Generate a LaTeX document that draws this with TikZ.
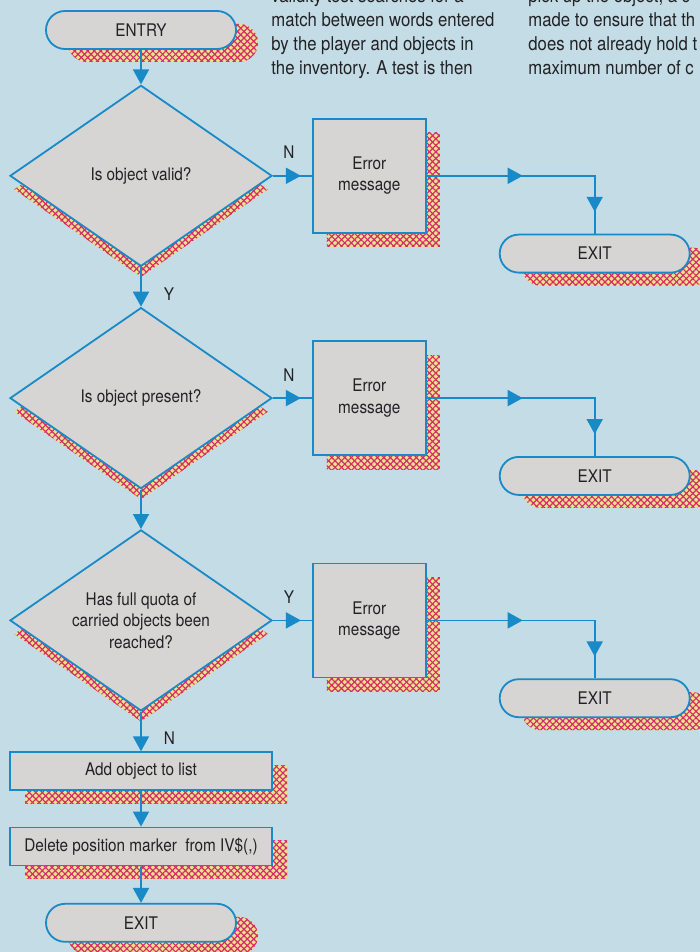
\documentclass[tikz,border=0pt]{standalone}
\usepackage{fontspec}
\setmainfont{TeX Gyre Heros}[FakeStretch=0.88]
\usetikzlibrary{arrows.meta,positioning,shapes,shapes.geometric,shapes.misc,patterns.meta,shadows,decorations.markings}

\definecolor{paper}{RGB}{195,220,230}
\definecolor{boxgrey}{RGB}{214,213,211}
\definecolor{flowblue}{RGB}{24,138,200}
\definecolor{hatchred}{RGB}{212,44,104}
\definecolor{hatchyellow}{RGB}{236,226,140}
\definecolor{ink}{RGB}{34,34,38}

\tikzset{
  hatched/.style n args={3}{
    general shadow={shadow xshift=#1, shadow yshift=#2, shadow scale=#3, draw=none, fill=hatchyellow},
    general shadow={shadow xshift=#1, shadow yshift=#2, shadow scale=#3, draw=none,
      pattern={Lines[angle=45,distance=2.3pt,line width=.6pt]}, pattern color=hatchred},
    general shadow={shadow xshift=#1, shadow yshift=#2, shadow scale=#3, draw=none,
      pattern={Lines[angle=-45,distance=2.3pt,line width=.6pt]}, pattern color=hatchred}},
  midarrows/.style={postaction={decorate},
    decoration={markings, mark=at position #1 with {\arrow{>}}}},
  turnarrows/.style={postaction={decorate},
    decoration={markings, mark=at position 48pt with {\arrow{>}},
      mark=at position 102pt with {\arrow{>}}}},
}

\begin{document}
\begin{tikzpicture}[x=1pt,y=1pt,
  >={Triangle[width=8pt,length=7.5pt]},
  base/.style={fill=boxgrey, draw=flowblue, line width=.9pt, inner sep=0pt, text=ink,
    font=\fontsize{8.7pt}{10.75pt}\selectfont, align=center},
  decision/.style={base, diamond, shape aspect=1.45, minimum width=131pt, minimum height=90.5pt, hatched={0pt}{-7pt}{.97}},
  process/.style={base, rectangle, minimum width=131pt, minimum height=19pt, hatched={7.5pt}{-6.5pt}{1}},
  errbox/.style={base, rectangle, minimum width=56.5pt, minimum height=57pt, hatched={7pt}{-7pt}{1}},
  terminal/.style={base, rounded rectangle, minimum width=95pt, minimum height=19pt, hatched={11pt}{-6.5pt}{1}},
  flow/.style={draw=flowblue, line width=.9pt},
  lbl/.style={inner sep=0pt, text=ink, font=\fontsize{8.7pt}{10pt}\selectfont},
  para/.style={inner sep=0pt, text=ink, align=left, font=\fontsize{9.5pt}{12pt}\selectfont}]

\path[use as bounding box] (0,0) rectangle (350,-476);
\fill[paper] (0,0) rectangle (350,-476);
\clip (0,0) rectangle (350,-476);

% text of the page round the chart
\node[para, anchor=base west] (col1) at (135.5,-37.5) {validity test searches for a\\match between words entered\\by the player and objects in\\the inventory. A test is then};
\node[para, anchor=base west] (col2) at (264,-37.5) {pick up the object, a c\\made to ensure that th\\does not already hold t\\maximum number of c};

% main column
\node[terminal] (entry) at (70.5,-15) {ENTRY};
\node[decision, below=17.25pt of entry] (valid) {Is object valid?};
\node[decision, below=19.75pt of valid] (present) {Is object present?};
\node[decision, below=19.75pt of present] (quota) {Has full quota of\\carried objects been\\reached?};
\node[process, below=19.75pt of quota] (add) {Add object to list};
\node[process, below=17.75pt of add] (delete) {Delete position marker~ from IV\$(,)};
\node[terminal, below=18.25pt of delete] (exit) {EXIT};

% error branches
\node[errbox, right=19.5pt of valid] (err1) {Error\\message};
\node[errbox, right=19.5pt of present] (err2) {Error\\message};
\node[errbox, right=19.5pt of quota] (err3) {Error\\message};
\node[terminal, anchor=north] (exit1) at ([xshift=84pt]err1.south east) {EXIT};
\node[terminal, anchor=north] (exit2) at ([xshift=84pt]err2.south east) {EXIT};
\node[terminal, anchor=north] (exit3) at ([xshift=84pt]err3.south east) {EXIT};

\draw[flow,->] (entry) -- (valid);
\draw[flow,->] (valid) -- node[lbl, right=11pt, pos=.68] {Y} (present);
\draw[flow,->] (present) -- (quota);
\draw[flow,->] (quota) -- node[lbl, right=11pt, pos=.67] {N} (add);
\draw[flow,->] (add) -- (delete);
\draw[flow,->] (delete) -- (exit);

\draw[flow, midarrows=14pt] (valid.east) -- node[lbl, above=8pt, pos=.41] {N} (err1.west);
\draw[flow, midarrows=14pt] (present.east) -- node[lbl, above=8pt, pos=.41] {N} (err2.west);
\draw[flow, midarrows=14pt] (quota.east) -- node[lbl, above=8pt, pos=.41] {Y} (err3.west);

\draw[flow, turnarrows] (err1.east) -| (exit1.north);
\draw[flow, turnarrows] (err2.east) -| (exit2.north);
\draw[flow, turnarrows] (err3.east) -| (exit3.north);

\end{tikzpicture}
\end{document}
